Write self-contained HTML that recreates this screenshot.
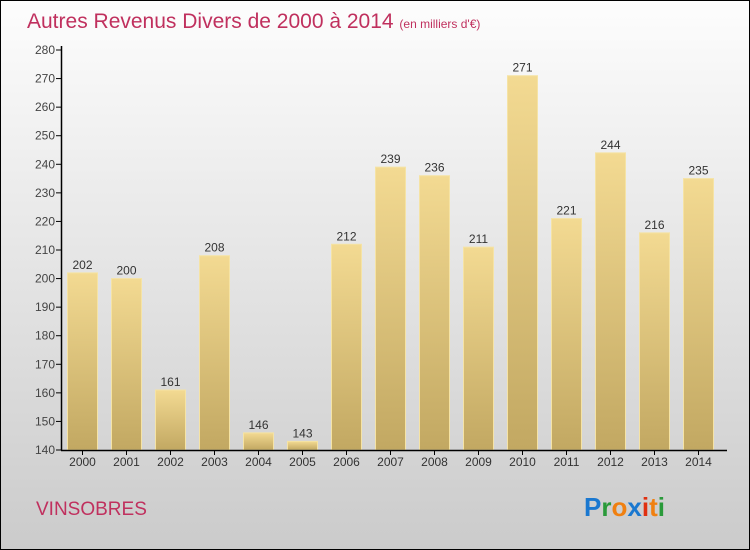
<!DOCTYPE html>
<html><head><meta charset="utf-8"><style>
body{margin:0}
#c{width:750px;height:550px;position:relative;overflow:hidden;font-family:"Liberation Sans",sans-serif}
</style></head><body>
<div id="c">
<svg id="s" width="750" height="550" xmlns="http://www.w3.org/2000/svg">
<defs>
<linearGradient id="bg" x1="0" y1="0" x2="0" y2="1"><stop offset="0" stop-color="#fdfdfd"/><stop offset="1" stop-color="#cbcbcb"/></linearGradient>
<linearGradient id="bar" x1="0" y1="0" x2="0" y2="1"><stop offset="0" stop-color="#f3da92"/><stop offset="1" stop-color="#c2a862"/></linearGradient>
</defs>
<rect x="0.5" y="0.5" width="749" height="549" fill="url(#bg)" stroke="#000"/>
<text x="27" y="28" font-size="21" fill="#c0305e">Autres Revenus Divers de 2000 à 2014 <tspan font-size="12">(en milliers d'€)</tspan></text>
<g id="g"></g>
<text x="36" y="515" font-size="19" fill="#c0305e">VINSOBRES</text>
<text x="584" y="516" font-size="26" font-weight="bold"><tspan fill="#1a78d0">P</tspan><tspan fill="#2a9a3a">r</tspan><tspan fill="#f08010">o</tspan><tspan fill="#1a78d0">x</tspan><tspan fill="#e03010">i</tspan><tspan fill="#f08010">t</tspan><tspan fill="#2a9a3a">i</tspan></text>
</svg>
</div>
<script>
const years=["2000","2001","2002","2003","2004","2005","2006","2007","2008","2009","2010","2011","2012","2013","2014"];
const values=[202,200,161,208,146,143,212,239,236,211,271,221,244,216,235];
const yTicks=[140,150,160,170,180,190,200,210,220,230,240,250,260,270,280];
const NS="http://www.w3.org/2000/svg";
const g=document.getElementById('g');
const y0=450,y1=50,vmin=140,vmax=280;
const Y=v=>y0-(v-vmin)/(vmax-vmin)*(y0-y1);
const X=i=>67.5+i*44;
function mk(t,a){const e=document.createElementNS(NS,t);for(const k in a)e.setAttribute(k,a[k]);g.appendChild(e);return e;}
yTicks.forEach(v=>{
 const l=mk('line',{x1:56,x2:61,y1:Y(v),y2:Y(v),stroke:'#000'});
 
 
 const t=mk('text',{x:55,y:Y(v)+4,'text-anchor':'end','font-size':12,fill:'#444'});
 t.textContent=v;
 
 
});
values.forEach((v,i)=>{
 const r=mk('rect',{x:X(i),y:Y(v),width:30,height:y0-Y(v),fill:'url(#bar)',stroke:'#f5e3a5','stroke-width':1});
 
 
 const t=mk('text',{x:X(i)+15,y:Y(v)-4,'text-anchor':'middle','font-size':12,fill:'#333'});
 t.textContent=v;
 
 
 const tk=mk('line',{x1:X(i)+15,x2:X(i)+15,y1:450,y2:455,stroke:'#000'});
 
 
 const xl=mk('text',{x:X(i)+15,y:466,'text-anchor':'middle','font-size':12,fill:'#333'});
 xl.textContent=years[i];
 
 
});
const ya=mk('line',{x1:61.5,x2:61.5,y1:46,y2:450.5,stroke:'#000','stroke-width':1.5});


const xa=mk('line',{x1:61,x2:727,y1:450.5,y2:450.5,stroke:'#000','stroke-width':1.5});


</script>
</body></html>
